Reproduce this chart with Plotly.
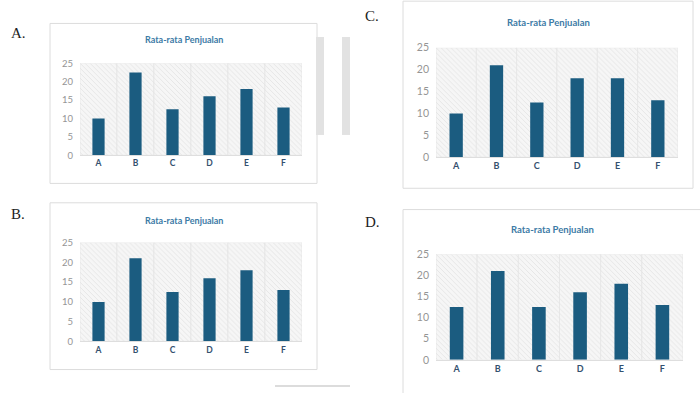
import plotly.graph_objects as go

categories = ["A", "B", "C", "D", "E", "F"]
values_A = [10, 22.5, 12.5, 16, 18, 13]
values_B = [10, 21, 12.5, 16, 18, 13]
values_C = [10, 21, 12.5, 18, 18, 13]
values_D = [12.5, 21, 12.5, 16, 18, 13]
y_ticks = [0, 5, 10, 15, 20, 25]
chart_title = "Rata-rata Penjualan"
panel_labels = ["A.", "B.", "C.", "D."]

W, H = 700, 393
Y_MAX = 25

def px(x):
    return x / W

def py(y):
    return 1 - y / H

BAR = "#1B5C80"
TITLE_C = "#3D7BA6"
CAT_C = "#34506E"
TICK_C = "#959595"
GRID = "#DEDEDE"

panels = [
    dict(vals=values_A, x=(80, 302), y=(59, 154), title=(184, 35), label=(18, 28), tf=9.5, cf=8.5, ttf=9),
    dict(vals=values_B, x=(80, 302), y=(244, 346), title=(184, 221), label=(18, 215), tf=9.5, cf=8.5, ttf=9),
    dict(vals=values_C, x=(436, 678), y=(43, 156), title=(548, 17), label=(372, 10), tf=10.5, cf=9, ttf=9.5),
    dict(vals=values_D, x=(436, 683), y=(256, 365), title=(552, 231), label=(372, 223), tf=10.5, cf=9, ttf=9.5),
]

fig = go.Figure()
layout = {}
annotations = []
shapes = []

cards = [(50, 18, 317, 183), (50, 203, 317, 375), (403, -5, 693, 188), (403, 210, 720, 400)]
for (x0, y0, x1, y1) in cards:
    shapes.append(dict(type="rect", xref="paper", yref="paper", x0=px(x0), x1=px(x1), y0=py(y1), y1=py(y0),
                       line=dict(color="#DCDCDC", width=1), fillcolor="white", layer="below"))
for (x0, x1) in [(316, 324), (342, 350)]:
    shapes.append(dict(type="rect", xref="paper", yref="paper", x0=px(x0), x1=px(x1), y0=py(133), y1=py(32),
                       line=dict(width=0), fillcolor="#E2E2E2", layer="below"))
shapes.append(dict(type="line", xref="paper", yref="paper", x0=px(275), x1=px(350), y0=py(392), y1=py(392),
                   line=dict(color="#D0D0D0", width=1.5), layer="below"))

for i, p in enumerate(panels):
    n = "" if i == 0 else str(i + 1)
    xa, ya = "x" + n, "y" + n
    fig.add_trace(go.Bar(x=categories, y=[Y_MAX] * len(categories), xaxis=xa, yaxis=ya, width=1,
                         marker=dict(color="rgba(255,255,255,0)", line=dict(color="#E4E4E4", width=0.7),
                                     pattern=dict(shape="\\", fgcolor="#D2D2D2", bgcolor="rgba(246,246,246,1)",
                                                  size=3.5, solidity=0.25)),
                         hoverinfo="skip", showlegend=False))
    fig.add_trace(go.Bar(x=categories, y=p["vals"], xaxis=xa, yaxis=ya, width=0.33,
                         marker=dict(color=BAR, line=dict(width=0)), showlegend=False))
    layout["xaxis" + n] = dict(domain=[px(p["x"][0]), px(p["x"][1])], anchor=ya,
                                tickfont=dict(family="Lato", size=p["cf"], color=CAT_C, weight="bold"),
                                showgrid=False, showline=True, linecolor=GRID, ticks="", fixedrange=True)
    layout["yaxis" + n] = dict(domain=[py(p["y"][1]), py(p["y"][0])], anchor=xa, range=[0, Y_MAX],
                                tickvals=y_ticks, tickfont=dict(family="Lato", size=p["tf"], color=TICK_C),
                                showgrid=True, gridcolor=GRID, zeroline=False, ticks="", ticklabelstandoff=6)
    annotations.append(dict(text="<b>" + chart_title + "</b>", xref="paper", yref="paper",
                            x=px(p["title"][0]), y=py(p["title"][1]), showarrow=False,
                            font=dict(family="Lato", size=p["ttf"], color=TITLE_C), xanchor="center", yanchor="middle"))
    annotations.append(dict(text=panel_labels[i], xref="paper", yref="paper",
                            x=px(p["label"][0]), y=py(p["label"][1]), showarrow=False,
                            font=dict(family="Liberation Serif", size=15, color="#222222"),
                            xanchor="center", yanchor="middle"))

fig.update_layout(width=W, height=H, margin=dict(l=0, r=0, t=0, b=0), barmode="overlay",
                  paper_bgcolor="white", plot_bgcolor="rgba(0,0,0,0)", showlegend=False,
                  annotations=annotations, shapes=shapes, **layout)
fig.write_html("out.html", config={"displayModeBar": False},
               post_script="document.body.style.margin='0';document.body.style.overflow='hidden';")
